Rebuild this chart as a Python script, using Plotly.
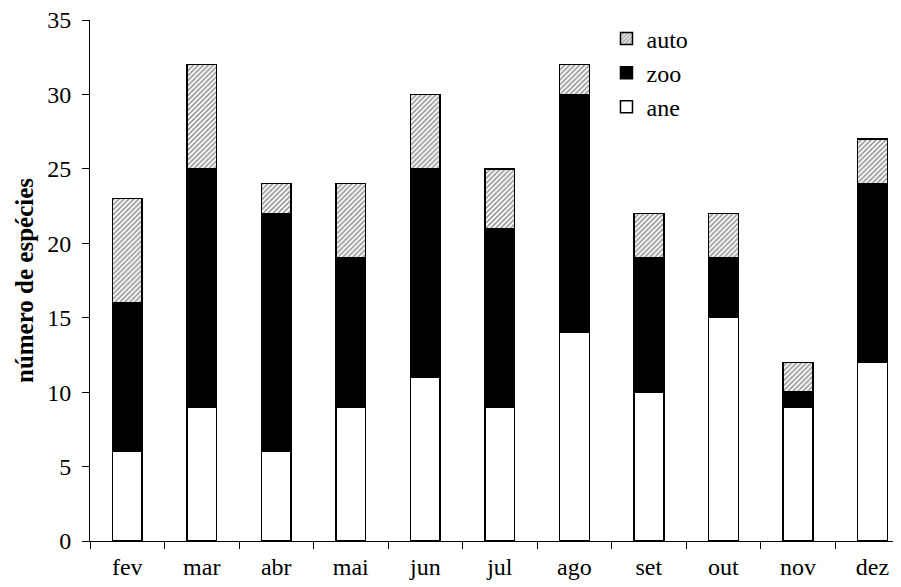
import plotly.graph_objects as go

months = ["fev", "mar", "abr", "mai", "jun", "jul", "ago", "set", "out", "nov", "dez"]
ane = [6, 9, 6, 9, 11, 9, 14, 10, 15, 9, 12]
zoo = [10, 16, 16, 10, 14, 12, 16, 9, 4, 1, 12]
auto = [7, 7, 2, 5, 5, 4, 2, 3, 3, 2, 3]
y_ticks = [0, 5, 10, 15, 20, 25, 30, 35]

FONT = "Liberation Serif, Times New Roman, serif"
line = dict(color="black", width=1.5)

fig = go.Figure()
fig.add_trace(go.Bar(x=months, y=ane, name="ane", legendgroup="a",
                     marker=dict(color="white", line=line), width=0.4))
fig.add_trace(go.Bar(x=months, y=zoo, name="zoo", legendgroup="b",
                     marker=dict(color="black", line=line), width=0.4))
fig.add_trace(go.Bar(x=months, y=auto, name="auto", legendgroup="c",
                     marker=dict(color="white", line=line,
                                 pattern=dict(shape="/", fgcolor="#222", bgcolor="white",
                                              size=3.5, solidity=0.45)),
                     width=0.4))

fig.update_layout(
    barmode="stack",
    width=893, height=579,
    margin=dict(l=82, r=4, t=12, b=46, autoexpand=False),
    paper_bgcolor="white", plot_bgcolor="white",
    font=dict(family=FONT, size=24, color="black"),
    legend=dict(x=0.64, y=1.007, xanchor="left", yanchor="top",
                traceorder="reversed", tracegroupgap=9,
                font=dict(family=FONT, size=24), bgcolor="rgba(0,0,0,0)"),
    showlegend=True,
)
fig.update_xaxes(
    range=[-0.5, 10.33], showline=True, linecolor="black", linewidth=1,
    ticks="outside", tickson="boundaries", ticklen=7, tickcolor="black",
    showgrid=False, zeroline=False, ticklabelstandoff=4, automargin=False,
    ticklabeloverflow="allow",
)
fig.update_yaxes(
    range=[0, 35], tickvals=y_ticks, showline=True, linecolor="black", linewidth=1,
    ticks="outside", ticklen=7, tickcolor="black", showgrid=False, zeroline=False,
    ticklabelstandoff=6, automargin=False, ticklabeloverflow="allow",
    title=dict(text="<b>número de espécies</b>", font=dict(family=FONT, size=25), standoff=6),
)

fig.write_html("out.html")
